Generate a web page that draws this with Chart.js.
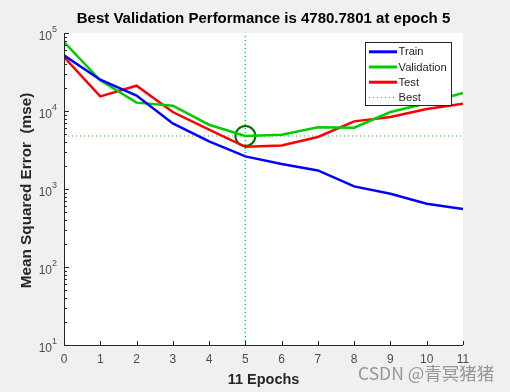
<!DOCTYPE html>
<html>
<head>
<meta charset="utf-8">
<script src="https://cdn.jsdelivr.net/npm/chart.js@4"></script>
<style>
  html, body { margin: 0; padding: 0; background: #f0f0f0; }
  canvas { display: block; }
</style>
</head>
<body>
<canvas id="perf" width="510" height="392"></canvas>
<script>
// values (mse per epoch)
const epochs = [0, 1, 2, 3, 4, 5, 6, 7, 8, 9, 10, 11];
const trainMse = [51600, 25200, 15800, 6940, 4070, 2620, 2090, 1730, 1080, 871, 648, 555];
const validationMse = [76700, 24700, 12800, 11700, 6670, 4780.7801, 4970, 6170, 6100, 9700, 12600, 17000];
const testMse = [49200, 15400, 21100, 9700, 5750, 3480, 3620, 4640, 7360, 8380, 10600, 12400];
const bestEpoch = 5;
const bestPerf = 4780.7801;
const yPowers = [1, 2, 3, 4, 5];
const xTicks = [0, 1, 2, 3, 4, 5, 6, 7, 8, 9, 10, 11];
const legendNames = ['Train', 'Validation', 'Test', 'Best'];

const toPoints = (vals) => vals.map((v, i) => ({ x: epochs[i], y: v }));

const font = '"Liberation Sans", Arial, sans-serif';
const axisCol = '#262626';
const tickCol = '#4d4d4d';
const bestCol = '#00c000';

const matlabAxes = {
  id: 'matlabAxes',
  beforeDraw(chart) {
    const { ctx, chartArea: a } = chart;
    ctx.save();
    ctx.fillStyle = '#ffffff';
    ctx.fillRect(a.left, a.top, a.right - a.left, a.bottom - a.top);
    ctx.restore();
  },
  afterDraw(chart) {
    const { ctx, chartArea: a } = chart;
    const xs = chart.scales.x, ys = chart.scales.y;
    ctx.save();

    // axis lines
    ctx.strokeStyle = axisCol;
    ctx.lineWidth = 1;
    ctx.beginPath();
    ctx.moveTo(a.left + 0.5, a.top);
    ctx.lineTo(a.left + 0.5, a.bottom + 0.5);
    ctx.lineTo(a.right, a.bottom + 0.5);
    ctx.stroke();

    // y ticks (inward), major + minor
    ctx.beginPath();
    yPowers.forEach((p, i) => {
      const base = Math.pow(10, p);
      const y = Math.round(ys.getPixelForValue(base)) + 0.5;
      ctx.moveTo(a.left, y); ctx.lineTo(a.left + 5, y);
      if (i < yPowers.length - 1) {
        for (let m = 2; m <= 9; m++) {
          const ym = Math.round(ys.getPixelForValue(base * m)) + 0.5;
          ctx.moveTo(a.left, ym); ctx.lineTo(a.left + 3, ym);
        }
      }
    });
    // x ticks (inward)
    xTicks.forEach(t => {
      const x = Math.round(xs.getPixelForValue(t)) + 0.5;
      ctx.moveTo(x, a.bottom); ctx.lineTo(x, a.bottom - 4);
    });
    ctx.stroke();

    // y tick labels 10^n
    ctx.fillStyle = tickCol;
    yPowers.forEach(p => {
      const y = ys.getPixelForValue(Math.pow(10, p));
      ctx.font = '12px ' + font;
      ctx.textAlign = 'right';
      ctx.textBaseline = 'middle';
      ctx.fillText('10', a.left - 12, y + 4);
      ctx.font = '9px ' + font;
      ctx.textAlign = 'left';
      ctx.fillText(String(p), a.left - 12, y - 3);
    });

    // x tick labels
    ctx.font = '12px ' + font;
    ctx.textAlign = 'center';
    ctx.textBaseline = 'middle';
    xTicks.forEach(t => ctx.fillText(String(t), xs.getPixelForValue(t), a.bottom + 15));

    // titles
    ctx.fillStyle = '#000000';
    ctx.font = 'bold 15px ' + font;
    ctx.fillText('Best Validation Performance is 4780.7801 at epoch 5', (a.left + a.right) / 2, 19);
    ctx.fillStyle = axisCol;
    ctx.font = 'bold 14.5px ' + font;
    ctx.fillText('11 Epochs', (a.left + a.right) / 2, 380);
    ctx.save();
    ctx.translate(27, 190.5);
    ctx.rotate(-Math.PI / 2);
    ctx.font = 'bold 15.3px ' + font;
    ctx.fillText('Mean Squared Error  (mse)', 0, 0);
    ctx.restore();

    // legend box
    const lx = 365.5, ly = 42.5, lw = 86, lh = 63;
    ctx.fillStyle = '#ffffff';
    ctx.fillRect(lx, ly, lw, lh);
    ctx.strokeStyle = axisCol;
    ctx.lineWidth = 1;
    ctx.strokeRect(lx, ly, lw, lh);
    const dsets = chart.data.datasets;
    legendNames.forEach((name, i) => {
      const ds = dsets[i];
      const yy = 51.8 + i * 15.2;
      ctx.strokeStyle = ds.borderColor;
      ctx.lineWidth = i < 3 ? 3 : 1;
      ctx.setLineDash(ds.borderDash || []);
      ctx.beginPath();
      ctx.moveTo(369, yy); ctx.lineTo(397, yy);
      ctx.stroke();
      ctx.setLineDash([]);
      ctx.fillStyle = axisCol;
      ctx.font = '11.2px ' + font;
      ctx.textAlign = 'left';
      ctx.fillText(name, 398.5, yy + 0.5);
    });

    // watermark
    ctx.font = '17.5px "Noto Sans CJK SC", sans-serif';
    ctx.fillStyle = 'rgba(120,120,120,0.75)';
    ctx.textAlign = 'left';
    ctx.fillText('CSDN @青冥猪猪', 358, 373);

    ctx.restore();
  }
};

new Chart(document.getElementById('perf'), {
  type: 'line',
  data: {
    datasets: [
      { label: 'Train', data: toPoints(trainMse), borderColor: '#0000ff', borderWidth: 2.5, pointRadius: 0, tension: 0 },
      { label: 'Validation', data: toPoints(validationMse), borderColor: '#00cc00', borderWidth: 2.5, pointRadius: 0, tension: 0 },
      { label: 'Test', data: toPoints(testMse), borderColor: '#ff0000', borderWidth: 2.5, pointRadius: 0, tension: 0 },
      { label: 'Best', data: [{ x: bestEpoch, y: 10 }, { x: bestEpoch, y: 1e5 }], borderColor: bestCol, borderWidth: 1.3, borderDash: [1, 3], pointRadius: 0 },
      { label: 'BestH', data: [{ x: 0, y: bestPerf }, { x: 11, y: bestPerf }], borderColor: bestCol, borderWidth: 1, borderDash: [1, 3], pointRadius: 0 },
      { label: 'BestPt', data: [{ x: bestEpoch, y: bestPerf }], showLine: false, pointRadius: 10, pointStyle: 'circle', borderColor: '#006e00', borderWidth: 2, backgroundColor: 'rgba(0,0,0,0)' }
    ]
  },
  options: {
    responsive: false,
    animation: false,
    events: [],
    layout: { padding: { left: 64, right: 47, top: 33, bottom: 47 } },
    plugins: { legend: { display: false }, title: { display: false }, tooltip: { enabled: false } },
    scales: {
      x: { type: 'linear', min: 0, max: 11, display: false },
      y: { type: 'logarithmic', min: 10, max: 1e5, display: false }
    }
  },
  plugins: [matlabAxes]
});
</script>
</body>
</html>
